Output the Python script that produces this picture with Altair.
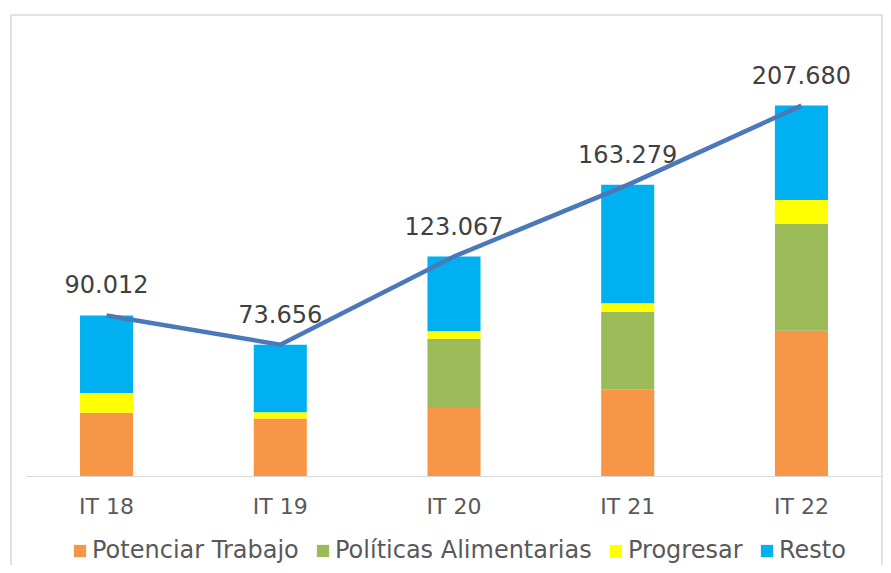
import altair as alt
import pandas as pd

periods = ["IT 18", "IT 19", "IT 20", "IT 21", "IT 22"]
series = ["Potenciar Trabajo", "Políticas Alimentarias", "Progresar", "Resto"]
colors = ["#F79646", "#9BBB59", "#FFFF00", "#00B0F0"]

potenciar = [35.4, 32.3, 38.1, 48.6, 81.5]
alimentarias = [0.0, 0.0, 38.8, 43.5, 59.8]
progresar = [11.2, 3.4, 4.3, 4.7, 13.5]
resto = [43.4, 37.9, 41.9, 66.5, 52.9]

totals = [90.012, 73.656, 123.067, 163.279, 207.680]
total_labels = ["90.012", "73.656", "123.067", "163.279", "207.680"]

FONT = "DejaVu Sans"

rows = []
for i, p in enumerate(periods):
    for k, (name, vals) in enumerate(zip(series, [potenciar, alimentarias, progresar, resto])):
        rows.append({"periodo": p, "serie": name, "valor": vals[i], "orden": k})
bars_df = pd.DataFrame(rows)
tot_df = pd.DataFrame({"periodo": periods, "total": totals, "label": total_labels})

x_enc = alt.X(
    "periodo:N",
    sort=periods,
    scale=alt.Scale(paddingInner=0.6945, paddingOuter=0.311),
    axis=alt.Axis(
        title=None, labelAngle=0, ticks=False, domainColor="#D9D9D9", domainWidth=1.2,
        labelFont=FONT, labelFontSize=22, labelColor="#595959", labelPadding=20,
    ),
)
y_scale = alt.Scale(domain=[0, 240])

bars = alt.Chart(bars_df).mark_bar().encode(
    x=x_enc,
    y=alt.Y("valor:Q", stack="zero", scale=y_scale, axis=None),
    color=alt.Color(
        "serie:N",
        scale=alt.Scale(domain=series, range=colors),
        legend=alt.Legend(
            title=None, orient="none", direction="horizontal", legendX=42, legendY=491,
            symbolType="square", symbolSize=150, symbolStrokeWidth=0,
            labelFont=FONT, labelFontSize=24, labelColor="#595959", labelLimit=400,
            labelOffset=0, columnPadding=12, padding=0,
        ),
    ),
    order=alt.Order("orden:Q", sort="ascending"),
)

line = alt.Chart(tot_df).mark_line(color="#4A78B8", strokeWidth=4.5).encode(
    x=alt.X("periodo:N", sort=periods),
    y=alt.Y("total:Q", scale=y_scale),
)

labels = alt.Chart(tot_df).mark_text(
    dy=-22, baseline="alphabetic", align="center", font=FONT, fontSize=24, color="#404040"
).encode(
    x=alt.X("periodo:N", sort=periods),
    y=alt.Y("total:Q", scale=y_scale),
    text="label:N",
)

frame = alt.Chart(pd.DataFrame({"f": [0]})).mark_rect(
    fill=None, stroke="#D9D9D9", strokeWidth=1.5, clip=False
).encode(
    x=alt.value(-15), x2=alt.value(856), y=alt.value(-33), y2=alt.value(530)
)

chart = alt.layer(frame, bars, line, labels).properties(
    width=856, height=428,
    padding={"left": 18, "top": 40, "right": 1, "bottom": 89},
    autosize="none",
).configure(background="white").configure_view(strokeWidth=0, stroke="transparent")

chart.save("out.html", embed_options={"renderer": "svg", "actions": False})
